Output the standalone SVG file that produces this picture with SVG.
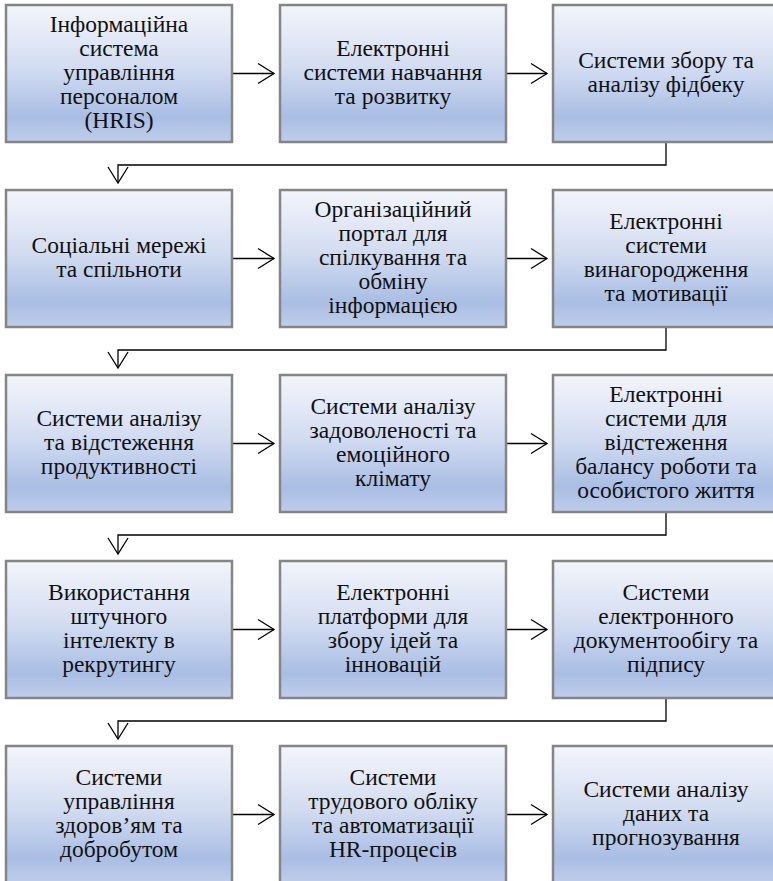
<svg xmlns="http://www.w3.org/2000/svg" width="773" height="881" viewBox="0 0 773 881">
<style>
.box{fill:url(#g);stroke:#858585;stroke-width:2.5}
.t{font-family:"Liberation Serif","Times New Roman",serif;font-size:23.5px;fill:#111;text-anchor:middle}
.c{fill:none;stroke:#000;stroke-width:1.3}
</style>
<defs>
<linearGradient id="g" x1="0" y1="0" x2="0" y2="1">
<stop offset="0" stop-color="#f3f5fb"/>
<stop offset="0.45" stop-color="#d3ddf1"/>
<stop offset="0.82" stop-color="#a9bee4"/>
<stop offset="1" stop-color="#bfcdea"/>
</linearGradient>
<marker id="a" viewBox="-18 -12 20 24" markerWidth="20" markerHeight="24" refX="0" refY="0" orient="auto" markerUnits="userSpaceOnUse">
<path d="M-16,-10 L0,0 L-16,10" fill="none" stroke="#000" stroke-width="1.3"/>
</marker>
</defs>

<g id="connectors">
<path class="c" d="M232,73.5 H274" marker-end="url(#a)"/>
<path class="c" d="M506,73.5 H547" marker-end="url(#a)"/>
<path class="c" d="M666,142 V165 H118 V183" marker-end="url(#a)"/>
<path class="c" d="M232,258.5 H274" marker-end="url(#a)"/>
<path class="c" d="M506,258.5 H547" marker-end="url(#a)"/>
<path class="c" d="M666,327 V350 H118 V368" marker-end="url(#a)"/>
<path class="c" d="M232,443.5 H274" marker-end="url(#a)"/>
<path class="c" d="M506,443.5 H547" marker-end="url(#a)"/>
<path class="c" d="M666,512 V535 H118 V554" marker-end="url(#a)"/>
<path class="c" d="M232,629.5 H274" marker-end="url(#a)"/>
<path class="c" d="M506,629.5 H547" marker-end="url(#a)"/>
<path class="c" d="M666,698 V721 H118 V739" marker-end="url(#a)"/>
<path class="c" d="M232,814.5 H274" marker-end="url(#a)"/>
<path class="c" d="M506,814.5 H547" marker-end="url(#a)"/>
</g>

<g id="n1"><rect class="box" x="6" y="5" width="226" height="137"/>
<text class="t"><tspan x="119" y="31.5">Інформаційна</tspan><tspan x="119" y="55.5">система</tspan><tspan x="119" y="79.5">управління</tspan><tspan x="119" y="103.5">персоналом</tspan><tspan x="119" y="127.5">(HRIS)</tspan></text></g>
<g id="n2"><rect class="box" x="280" y="5" width="226" height="137"/>
<text class="t"><tspan x="393" y="55.5">Електронні</tspan><tspan x="393" y="79.5">системи навчання</tspan><tspan x="393" y="103.5">та розвитку</tspan></text></g>
<g id="n3"><rect class="box" x="553" y="5" width="226" height="137"/>
<text class="t"><tspan x="666" y="67.5">Системи збору та</tspan><tspan x="666" y="91.5">аналізу фідбеку</tspan></text></g>

<g id="n4"><rect class="box" x="6" y="190" width="226" height="137"/>
<text class="t"><tspan x="119" y="252.5">Соціальні мережі</tspan><tspan x="119" y="276.5">та спільноти</tspan></text></g>
<g id="n5"><rect class="box" x="280" y="190" width="226" height="137"/>
<text class="t"><tspan x="393" y="216.5">Організаційний</tspan><tspan x="393" y="240.5">портал для</tspan><tspan x="393" y="264.5">спілкування та</tspan><tspan x="393" y="288.5">обміну</tspan><tspan x="393" y="312.5">інформацією</tspan></text></g>
<g id="n6"><rect class="box" x="553" y="190" width="226" height="137"/>
<text class="t"><tspan x="666" y="228.5">Електронні</tspan><tspan x="666" y="252.5">системи</tspan><tspan x="666" y="276.5">винагородження</tspan><tspan x="666" y="300.5">та мотивації</tspan></text></g>

<g id="n7"><rect class="box" x="6" y="375" width="226" height="137"/>
<text class="t"><tspan x="119" y="425.5">Системи аналізу</tspan><tspan x="119" y="449.5">та відстеження</tspan><tspan x="119" y="473.5">продуктивності</tspan></text></g>
<g id="n8"><rect class="box" x="280" y="375" width="226" height="137"/>
<text class="t"><tspan x="393" y="413.5">Системи аналізу</tspan><tspan x="393" y="437.5">задоволеності та</tspan><tspan x="393" y="461.5">емоційного</tspan><tspan x="393" y="485.5">клімату</tspan></text></g>
<g id="n9"><rect class="box" x="553" y="375" width="226" height="137"/>
<text class="t"><tspan x="666" y="401.5">Електронні</tspan><tspan x="666" y="425.5">системи для</tspan><tspan x="666" y="449.5">відстеження</tspan><tspan x="666" y="473.5">балансу роботи та</tspan><tspan x="666" y="497.5">особистого життя</tspan></text></g>

<g id="n10"><rect class="box" x="6" y="561" width="226" height="137"/>
<text class="t"><tspan x="119" y="599.5">Використання</tspan><tspan x="119" y="623.5">штучного</tspan><tspan x="119" y="647.5">інтелекту в</tspan><tspan x="119" y="671.5">рекрутингу</tspan></text></g>
<g id="n11"><rect class="box" x="280" y="561" width="226" height="137"/>
<text class="t"><tspan x="393" y="599.5">Електронні</tspan><tspan x="393" y="623.5">платформи для</tspan><tspan x="393" y="647.5">збору ідей та</tspan><tspan x="393" y="671.5">інновацій</tspan></text></g>
<g id="n12"><rect class="box" x="553" y="561" width="226" height="137"/>
<text class="t"><tspan x="666" y="599.5">Системи</tspan><tspan x="666" y="623.5">електронного</tspan><tspan x="666" y="647.5">документообігу та</tspan><tspan x="666" y="671.5">підпису</tspan></text></g>

<g id="n13"><rect class="box" x="6" y="746" width="226" height="137"/>
<text class="t"><tspan x="119" y="784.5">Системи</tspan><tspan x="119" y="808.5">управління</tspan><tspan x="119" y="832.5">здоров’ям та</tspan><tspan x="119" y="856.5">добробутом</tspan></text></g>
<g id="n14"><rect class="box" x="280" y="746" width="226" height="137"/>
<text class="t"><tspan x="393" y="784.5">Системи</tspan><tspan x="393" y="808.5">трудового обліку</tspan><tspan x="393" y="832.5">та автоматизації</tspan><tspan x="393" y="856.5">HR-процесів</tspan></text></g>
<g id="n15"><rect class="box" x="553" y="746" width="226" height="137"/>
<text class="t"><tspan x="666" y="796.5">Системи аналізу</tspan><tspan x="666" y="820.5">даних та</tspan><tspan x="666" y="844.5">прогнозування</tspan></text></g>
</svg>
